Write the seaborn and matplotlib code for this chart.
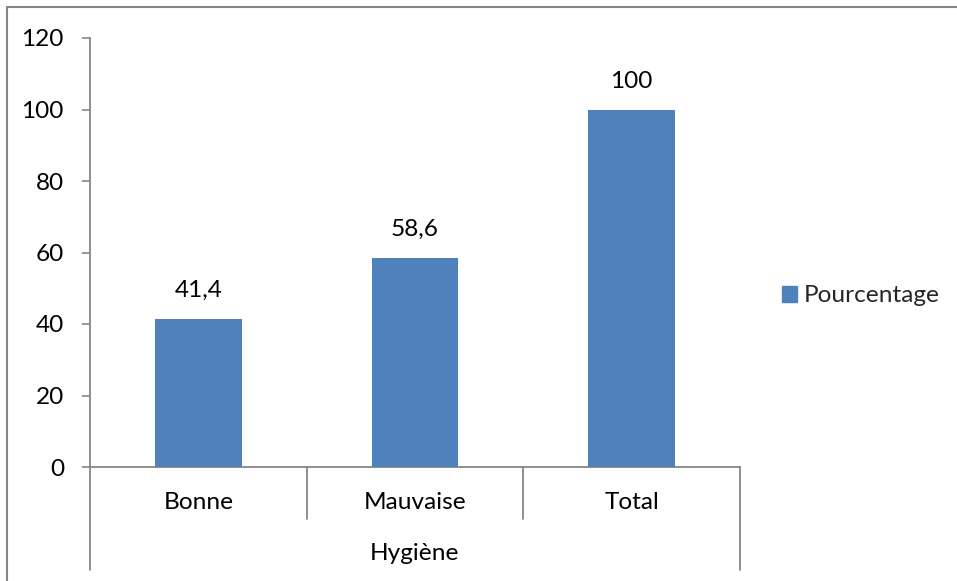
import matplotlib
matplotlib.use("Agg")
import matplotlib.pyplot as plt
import seaborn as sns
import pandas as pd
from matplotlib.lines import Line2D
from matplotlib.patches import Patch
import matplotlib.transforms as mtrans

categories = ["Bonne", "Mauvaise", "Total"]
values = [41.4, 58.6, 100]
group_label = "Hygiène"
series_name = "Pourcentage"
y_ticks = [0, 20, 40, 60, 80, 100, 120]

BAR = "#4F81BD"
AXIS = "#868686"
FONT = "Lato"
FS = 17.6

sns.set_theme(style="white")
plt.rcParams["font.family"] = [FONT, "DejaVu Sans"]

df = pd.DataFrame({"cat": categories, "val": values})

fig = plt.figure(figsize=(9.57, 5.81), dpi=100)
ax = fig.add_axes([90 / 957, 1 - 467 / 581, 650 / 957, 429 / 581])
sns.barplot(data=df, x="cat", y="val", color=BAR, width=0.4, saturation=1,
            linewidth=0, ax=ax, zorder=3)

ax.set_ylim(0, 120)
ax.set_xlim(-0.5, len(categories) - 0.5)
ax.set_yticks(y_ticks)
ax.set_yticklabels([str(t) for t in y_ticks], fontsize=FS, color="black")
ax.tick_params(axis="y", direction="out", length=5.8, width=1.2, color=AXIS,
               pad=13, left=True)
ax.set_xticks([])
ax.set_xlabel("")
ax.set_ylabel("")

for side in ("top", "right"):
    ax.spines[side].set_visible(False)
for side in ("left", "bottom"):
    ax.spines[side].set_color(AXIS)
    ax.spines[side].set_linewidth(1.3)

# value labels above the bars
for i, v in enumerate(values):
    ax.annotate(f"{v:g}".replace(".", ","), (i, v), xytext=(0, 20.5),
                textcoords="offset points", ha="center", va="center",
                fontsize=FS, color="black")

# multi-level category axis
trans = mtrans.blended_transform_factory(ax.transData, ax.transAxes)
n = len(categories)
for k in range(n + 1):
    x = k - 0.5
    low = -0.240 if k in (0, n) else -0.121
    ax.add_line(Line2D([x, x], [0, low], transform=trans, color=AXIS,
                       lw=1.3, clip_on=False))
for i, c in enumerate(categories):
    ax.text(i, -0.0816, c, transform=trans, ha="center", va="center",
            fontsize=FS, color="black")
ax.text((n - 1) / 2, -0.2005, group_label, transform=trans, ha="center",
        va="center", fontsize=FS, color="black")

# legend
fig.legend(handles=[Patch(facecolor=BAR, edgecolor=BAR, label=series_name)],
           loc="center left", bbox_to_anchor=(782 / 957, 1 - 296 / 581),
           frameon=False, fontsize=FS, handlelength=0.6, handleheight=0.6,
           handletextpad=0.3, borderpad=0, borderaxespad=0)

# chart area border
fig.add_artist(Line2D([7 / 957, 1], [1 - 7 / 581, 1 - 7 / 581],
                      transform=fig.transFigure, color=AXIS, lw=1.5))
fig.add_artist(Line2D([7 / 957, 7 / 957], [0, 1 - 7 / 581],
                      transform=fig.transFigure, color=AXIS, lw=1.5))

fig.savefig("out.png", dpi=100, facecolor="white")
